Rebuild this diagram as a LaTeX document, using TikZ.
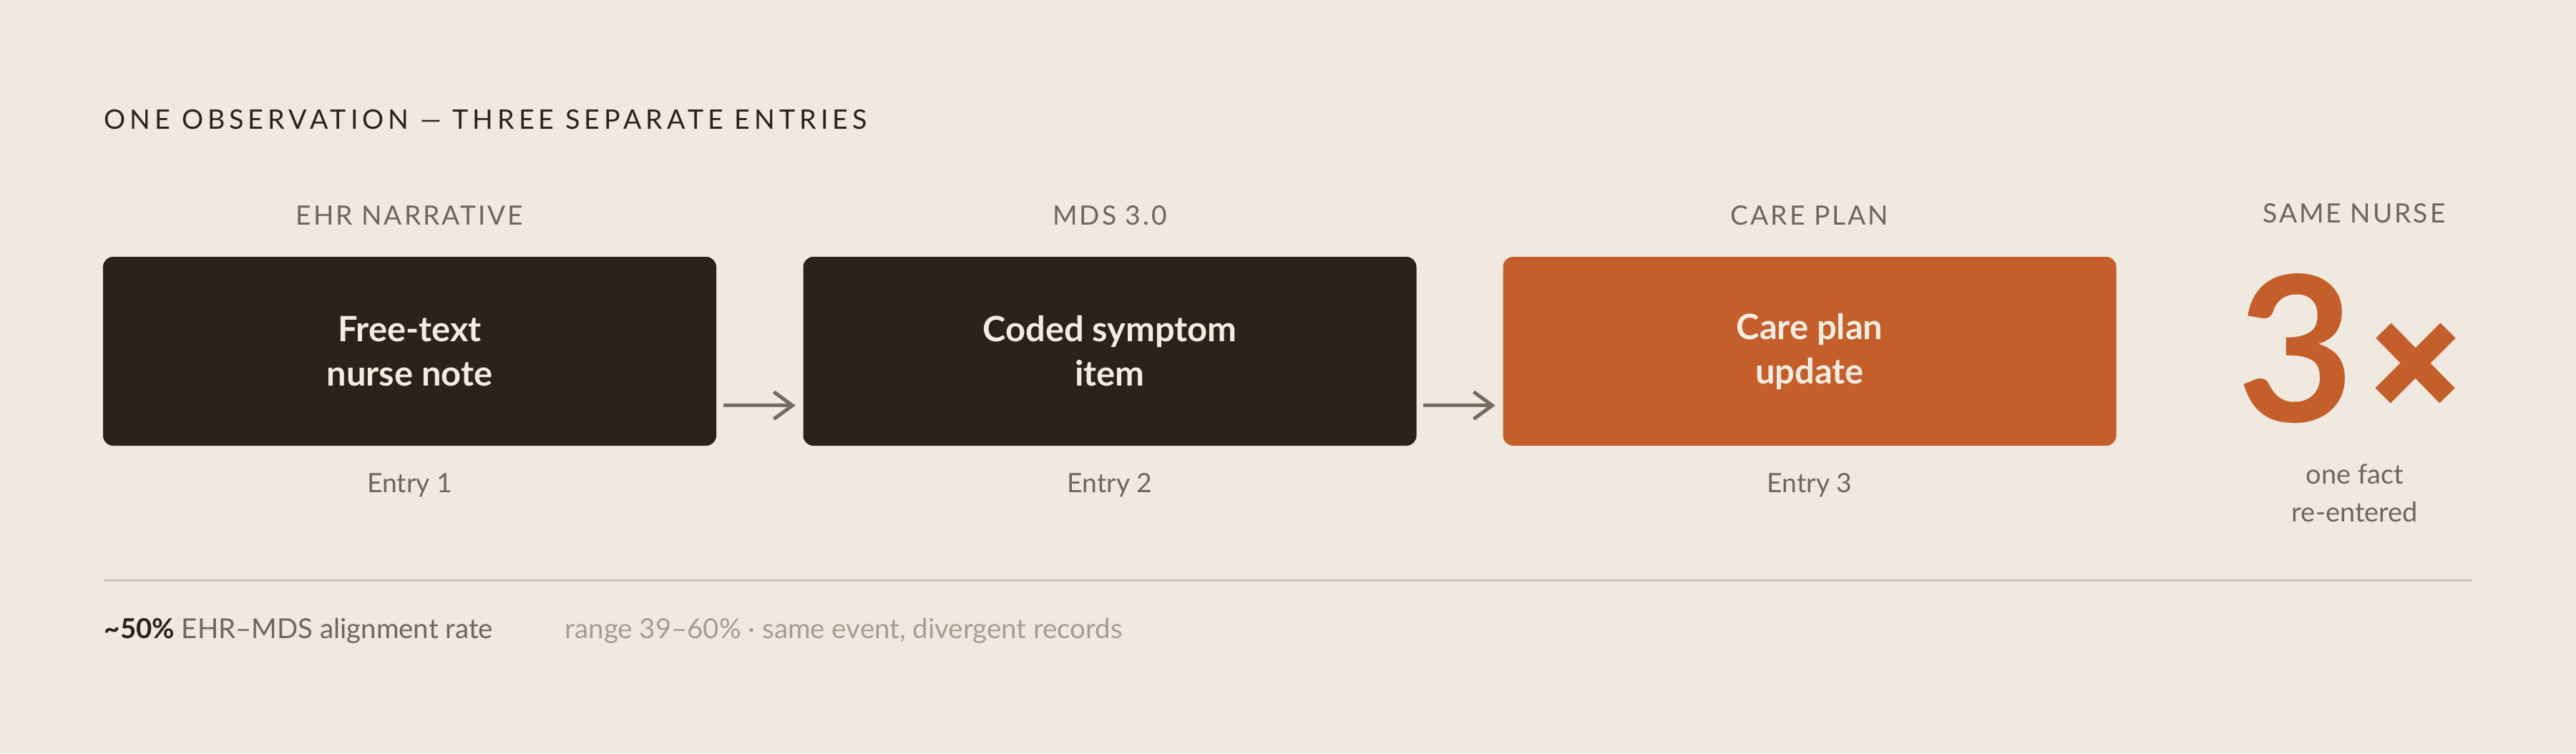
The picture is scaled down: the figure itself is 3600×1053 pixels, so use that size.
\documentclass[tikz,border=0pt]{standalone}
\usepackage{fontspec}
\setmainfont{Lato}
\newfontfamily\trackA[LetterSpace=16]{Lato}
\newfontfamily\trackB[LetterSpace=8]{Lato}
\usetikzlibrary{arrows.meta,calc}
\definecolor{bg}{HTML}{F0E9DF}
\definecolor{dark}{HTML}{2C221A}
\definecolor{rust}{HTML}{C45F2C}
\definecolor{midgray}{HTML}{6F675D}
\definecolor{arrowgray}{HTML}{756C61}
\definecolor{lightgray}{HTML}{A69D92}
\definecolor{rulegray}{HTML}{CDC4B7}
\definecolor{cream}{HTML}{F3ECE1}
\tikzset{
  entrybox/.style={rectangle, rounded corners=3.5pt, minimum width=214.25pt, minimum height=66pt,
    inner sep=0pt, align=center, text=cream, font=\fontsize{12.2pt}{15.5pt}\selectfont\bfseries},
  header/.style={anchor=base, inner sep=0pt, text=midgray, font=\fontsize{9.3pt}{11pt}\selectfont\trackB},
  entrylabel/.style={anchor=base, inner sep=0pt, text=midgray, font=\fontsize{9.3pt}{11pt}\selectfont},
  flow/.style={draw=arrowgray, line width=1.25pt, -{Straight Barb[length=6.5pt,width=9.5pt]}},
}
\begin{document}
\begin{tikzpicture}[x=0.25pt,y=-0.25pt]
\fill[bg] (0,0) rectangle (3600,1053);
\useasboundingbox (0,0) rectangle (3600,1053);

\node[anchor=base west, inner sep=0pt, text=dark, font=\fontsize{9.4pt}{11pt}\selectfont\trackA] (title) at (145,180) {ONE OBSERVATION — THREE SEPARATE ENTRIES};

\node[header] (h1) at (572.5,314) {EHR NARRATIVE};
\node[header] (h2) at (1551,314) {MDS 3.0};
\node[header] (h3) at (2529,314) {CARE PLAN};
\node[header] (h4) at (3290,311) {SAME NURSE};

\node[entrybox, fill=dark] (b1) at (572.5,491) {Free-text\\nurse note};
\node[entrybox, fill=dark] (b2) at (1551,491) {Coded symptom\\item};
\node[entrybox, fill=rust] (b3) at (2529,491) {Care plan\\update};

\draw[flow] ($(b1.south east)+(9,-57)$) -- ($(b2.south west)+(-10,-57)$);
\draw[flow] ($(b2.south east)+(9,-57)$) -- ($(b3.south west)+(-10,-57)$);

\node[entrylabel] (e1) at (572.5,688) {Entry 1};
\node[entrylabel] (e2) at (1551,688) {Entry 2};
\node[entrylabel] (e3) at (2529,688) {Entry 3};

\node[anchor=base, inner sep=0pt, text=rust, font=\fontsize{70.8pt}{72pt}\selectfont\bfseries] (three) at (3209,589) {3};
\draw[rust, line width=7.5pt] (3331,462) -- (3420,553);
\draw[rust, line width=7.5pt] (3421,462) -- (3330,553);

\node[anchor=base, inner sep=0pt, text=midgray, font=\fontsize{9.5pt}{11pt}\selectfont] (fact1) at (3291,676) {one fact};
\node[anchor=base, inner sep=0pt, text=midgray, font=\fontsize{9.5pt}{11pt}\selectfont] (fact2) at (3291,729) {re-entered};

\draw[rulegray, line width=0.75pt] (145,811) coordinate (rl) -- (3455,811) coordinate (rr);

\node[anchor=base west, inner sep=0pt, font=\fontsize{9.6pt}{11pt}\selectfont] (stat) at (145,892) {{\bfseries\color{dark}\textasciitilde50\%} \color{midgray}EHR–MDS alignment rate};
\node[anchor=base west, inner sep=0pt, text=lightgray, font=\fontsize{9.6pt}{11pt}\selectfont] (range) at (789,892) {range 39–60\% · same event, divergent records};
\end{tikzpicture}
\end{document}
